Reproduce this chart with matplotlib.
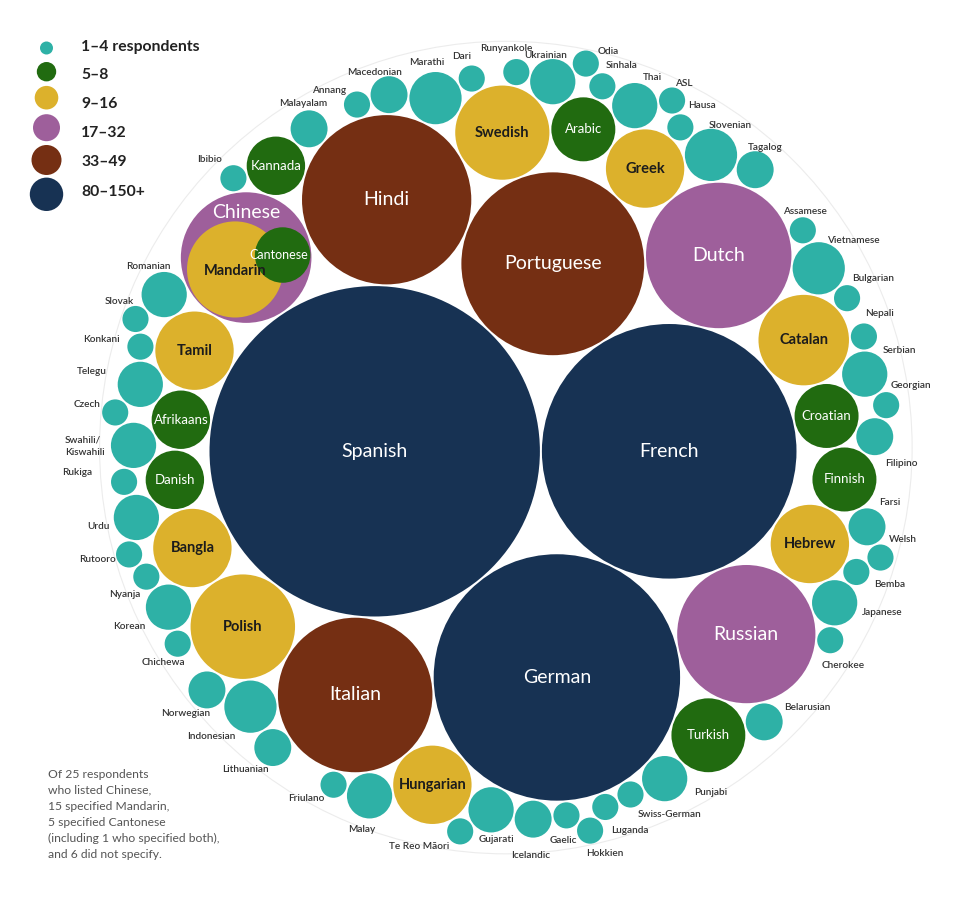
import numpy as np
import matplotlib
matplotlib.use("Agg")
import matplotlib.pyplot as plt
from matplotlib.patches import Circle

# ---------------- data (source order, sorted by number of respondents) ----------------
languages = [
    "Spanish", "French", "German", "Portuguese", "Hindi", "Italian", "Dutch", "Russian", "Chinese",
    "Polish", "Swedish", "Catalan",
    "Greek", "Hebrew", "Hungarian", "Tamil", "Bangla",
    "Turkish",
    "Arabic", "Croatian", "Finnish",
    "Afrikaans", "Danish", "Kannada",
    "Indonesian", "Marathi", "Slovenian", "Vietnamese",
    "Gujarati", "Japanese", "Korean", "Malay", "Romanian", "Punjabi", "Serbian", "Telegu",
    "Thai", "Ukrainian", "Swahili/Kiswahili", "Urdu",
    "Farsi", "Belarusian", "Filipino", "Icelandic", "Macedonian", "Lithuanian", "Malayalam",
    "Tagalog", "Norwegian",
    "Hausa", "Swiss-German", "Dari", "Assamese", "Bulgarian", "Bemba", "Cherokee", "Czech",
    "Ibibio", "Friulano", "ASL", "Gaelic", "Te Reo Māori", "Georgian", "Chichewa", "Rukiga",
    "Konkani", "Nyanja", "Luganda", "Nepali", "Sinhala", "Runyankole", "Rutooro", "Slovak",
    "Welsh", "Odia", "Hokkien", "Annang",
]
respondents = [
    160, 95, 89, 49, 42, 35, 31, 28, 25,
    16, 13, 12,
    9, 9, 9, 9, 9,
    8,
    6, 6, 6,
    5, 5, 5,
    4, 4, 4, 4,
    3, 3, 3, 3, 3, 3, 3, 3, 3, 3, 3, 3,
    2, 2, 2, 2, 2, 2, 2, 2, 2,
    1, 1, 1, 1, 1, 1, 1, 1, 1, 1, 1, 1, 1, 1, 1, 1, 1, 1, 1, 1, 1, 1, 1, 1, 1, 1, 1, 1,
]
chinese_sub = ["Mandarin", "Cantonese"]
chinese_sub_values = [15, 5]

legend_labels = ["1–4 respondents", "5–8", "9–16", "17–32", "33–49", "80–150+"]
legend_bounds = [1, 5, 9, 17, 33, 80]

footnote = ["Of 25 respondents", "who listed Chinese,", "15 specified Mandarin,",
            "5 specified Cantonese", "(including 1 who specified both),", "and 6 did not specify."]

# ---------------- style ----------------
COLORS = ["#2eb1a6", "#216b10", "#dcb12c", "#9e5f9b", "#752f13", "#173253"]
K = 13.06                 # px per sqrt(respondent)
PAD = 1.0                 # half of the gap between neighbouring bubbles
ORIGIN = (503.0, 451.3)   # where the packing origin sits on the canvas

LABEL_TEXT = {"Swahili/Kiswahili": "Swahili/\nKiswahili"}
LABEL_OFFSET = {
    "Ibibio": (-24, -19), "Malayalam": (-6, -25), "Annang": (-28, -14), "Macedonian": (-14, -22),
    "Marathi": (-9, -36), "Dari": (-10, -22), "Runyankole": (-10, -24), "Ukrainian": (-7, -26),
    "Odia": (22, -12), "Sinhala": (19, -21), "Thai": (18, -28), "ASL": (12, -17), "Hausa": (22, -22),
    "Slovenian": (19, -29), "Tagalog": (10, -22), "Assamese": (2, -19), "Vietnamese": (35, -28),
    "Bulgarian": (26, -20), "Nepali": (16, -23), "Serbian": (35, -24), "Georgian": (25, -20),
    "Filipino": (27, 27), "Farsi": (23, -24), "Welsh": (22, -18), "Bemba": (33, 13),
    "Japanese": (48, 10), "Cherokee": (13, 25), "Belarusian": (43, -14), "Punjabi": (46, 14),
    "Swiss-German": (39, 20), "Luganda": (25, 24), "Hokkien": (15, 23), "Gaelic": (-3, 25),
    "Icelandic": (-3, 36), "Gujarati": (5, 30), "Te Reo Māori": (-41, 15), "Malay": (-8, 34),
    "Friulano": (-27, 14), "Lithuanian": (-27, 22), "Indonesian": (-39, 30), "Norwegian": (-21, 24),
    "Chichewa": (-14, 19), "Korean": (-39, 19), "Nyanja": (-22, 18), "Urdu": (-38, 9),
    "Rutooro": (-32, 5), "Rukiga": (-47, -9), "Swahili/Kiswahili": (-49, 1), "Czech": (-28, -8),
    "Telegu": (-48, -13), "Konkani": (-39, -7), "Slovak": (-16, -17), "Romanian": (-16, -28),
}
INNER_ANGLE = {"Mandarin": 133.0, "Cantonese": -4.0}
INNER_SCALE = 0.95


def category(v):
    idx = 0
    for i, b in enumerate(legend_bounds):
        if v >= b:
            idx = i
    return idx


# ---------------- front-chain circle packing (as in d3.packSiblings) ----------------
class _Node:
    __slots__ = ("c", "next", "prev")

    def __init__(self, c):
        self.c = c
        self.next = None
        self.prev = None


def _place(b, a, c):
    dx = b[0] - a[0]
    dy = b[1] - a[1]
    d2 = dx * dx + dy * dy
    if d2:
        a2 = (a[2] + c[2]) ** 2
        b2 = (b[2] + c[2]) ** 2
        if a2 > b2:
            x = (d2 + b2 - a2) / (2 * d2)
            y = np.sqrt(max(0.0, b2 / d2 - x * x))
            c[0] = b[0] - x * dx - y * dy
            c[1] = b[1] - x * dy + y * dx
        else:
            x = (d2 + a2 - b2) / (2 * d2)
            y = np.sqrt(max(0.0, a2 / d2 - x * x))
            c[0] = a[0] + x * dx - y * dy
            c[1] = a[1] + x * dy + y * dx
    else:
        c[0] = a[0] + c[2]
        c[1] = a[1]


def _intersects(a, b):
    dr = a[2] + b[2] - 1e-6
    dx = b[0] - a[0]
    dy = b[1] - a[1]
    return dr > 0 and dr * dr > dx * dx + dy * dy


def _score(node):
    a = node.c
    b = node.next.c
    ab = a[2] + b[2]
    dx = (a[0] * b[2] + b[0] * a[2]) / ab
    dy = (a[1] * b[2] + b[1] * a[2]) / ab
    return dx * dx + dy * dy


def pack_siblings(radii):
    cs = [[0.0, 0.0, float(r)] for r in radii]
    n = len(cs)
    a, b = cs[0], cs[1]
    a[0] = -b[2]
    b[0] = a[2]
    b[1] = 0.0
    _place(b, a, cs[2])
    A, B, C = _Node(cs[0]), _Node(cs[1]), _Node(cs[2])
    A.next = C.prev = B
    B.next = A.prev = C
    C.next = B.prev = A
    a, b = A, B
    i = 3
    while i < n:
        c = _Node(cs[i])
        _place(a.c, b.c, c.c)
        j, k = b.next, a.prev
        sj, sk = b.c[2], a.c[2]
        retry = False
        while True:
            if sj <= sk:
                if _intersects(j.c, c.c):
                    b = j
                    a.next = b
                    b.prev = a
                    retry = True
                    break
                sj += j.c[2]
                j = j.next
            else:
                if _intersects(k.c, c.c):
                    a = k
                    a.next = b
                    b.prev = a
                    retry = True
                    break
                sk += k.c[2]
                k = k.prev
            if j is k.next:
                break
        if retry:
            continue
        c.prev = a
        c.next = b
        b.prev = c
        a.next = c
        b = c
        aa = _score(a)
        node = c.next
        while node is not b:
            ca = _score(node)
            if ca < aa:
                a = node
                aa = ca
            node = node.next
        b = a.next
        i += 1
    return np.array(cs)


def enclosing(xs, ys, rs):
    cx, cy = float(np.mean(xs)), float(np.mean(ys))
    w = 200.0
    for _ in range(40):
        g = np.linspace(-w, w, 21)
        gx, gy = np.meshgrid(cx + g, cy + g)
        f = np.max(np.sqrt((gx[..., None] - xs) ** 2 + (gy[..., None] - ys) ** 2) + rs, axis=-1)
        idx = np.unravel_index(np.argmin(f), f.shape)
        cx, cy = gx[idx], gy[idx]
        w *= 0.6
    R = np.max(np.sqrt((cx - xs) ** 2 + (cy - ys) ** 2) + rs)
    return cx, cy, R


vals = np.array(respondents, dtype=float)
radii = K * np.sqrt(vals)
packed = pack_siblings(radii + PAD)
xs = packed[:, 0] + ORIGIN[0]
ys = packed[:, 1] + ORIGIN[1]

# ---------------- drawing ----------------
plt.rcParams["font.family"] = ["Lato", "DejaVu Sans"]
fig = plt.figure(figsize=(9.59, 9.0), dpi=100)
ax = fig.add_axes([0, 0, 1, 1])
ax.set_xlim(0, 959)
ax.set_ylim(900, 0)
ax.set_aspect("equal")
ax.axis("off")

ecx, ecy, eR = enclosing(xs, ys, radii + PAD)
ax.add_patch(Circle((ecx, ecy), eR, fill=False, ec="#ececec", lw=0.8, zorder=0))

for i, (name, v) in enumerate(zip(languages, respondents)):
    cat = category(v)
    ax.add_patch(Circle((xs[i], ys[i]), radii[i], fc=COLORS[cat], ec="none", zorder=2))
    if cat == 0:
        dx, dy = LABEL_OFFSET.get(name, (0, -radii[i] - 8))
        ax.text(xs[i] + dx, ys[i] + dy, LABEL_TEXT.get(name, name), fontsize=7.2, fontweight="semibold",
                color="#333333", ha="center", va="center", multialignment="left", linespacing=1.45, zorder=5)
    elif name == "Chinese":
        ax.text(xs[i], ys[i] - 45, name, fontsize=14, color="white", ha="center", va="center", zorder=6)
        R = radii[i]
        for sname, sv in zip(chinese_sub, chinese_sub_values):
            r = K * np.sqrt(sv) * INNER_SCALE
            ang = np.deg2rad(INNER_ANGLE[sname])
            sx = xs[i] + (R - r - 1) * np.cos(ang)
            sy = ys[i] + (R - r - 1) * np.sin(ang)
            scat = category(sv)
            ax.add_patch(Circle((sx, sy), r, fc=COLORS[scat], ec="none", zorder=3))
            if scat == 2:
                ax.text(sx, sy + 2, sname, fontsize=10.5, fontweight="bold", color="#1c1c1c",
                        ha="center", va="center", zorder=7)
            else:
                ax.text(sx - 4, sy, sname, fontsize=9, color="white", ha="center", va="center", zorder=6)
    elif cat == 1:
        ax.text(xs[i], ys[i], name, fontsize=9.5, color="white", ha="center", va="center", zorder=6)
    elif cat == 2:
        ax.text(xs[i], ys[i], name, fontsize=10.5, fontweight="bold", color="#1c1c1c",
                ha="center", va="center", zorder=6)
    else:
        ax.text(xs[i], ys[i], name, fontsize=14, color="white", ha="center", va="center", zorder=6)

# legend
leg_y_c = [48, 71.7, 97.7, 127.7, 160, 194.3]
leg_r = [6.5, 9.7, 11.8, 13.5, 15, 16.7]
leg_y_t = [47, 75, 104, 133, 162.5, 192]
for k_, lab in enumerate(legend_labels):
    ax.add_patch(Circle((46.5, leg_y_c[k_]), leg_r[k_], fc=COLORS[k_], ec="none", zorder=2))
    ax.text(81, leg_y_t[k_], lab, fontsize=11.3, fontweight="bold", color="#222222",
            ha="left", va="center", zorder=5)

for k_, line in enumerate(footnote):
    ax.text(48, 774.3 + 16 * k_, line, fontsize=8.7, color="#555555", ha="left", va="center")

fig.savefig("out.png", dpi=100, facecolor="white")
